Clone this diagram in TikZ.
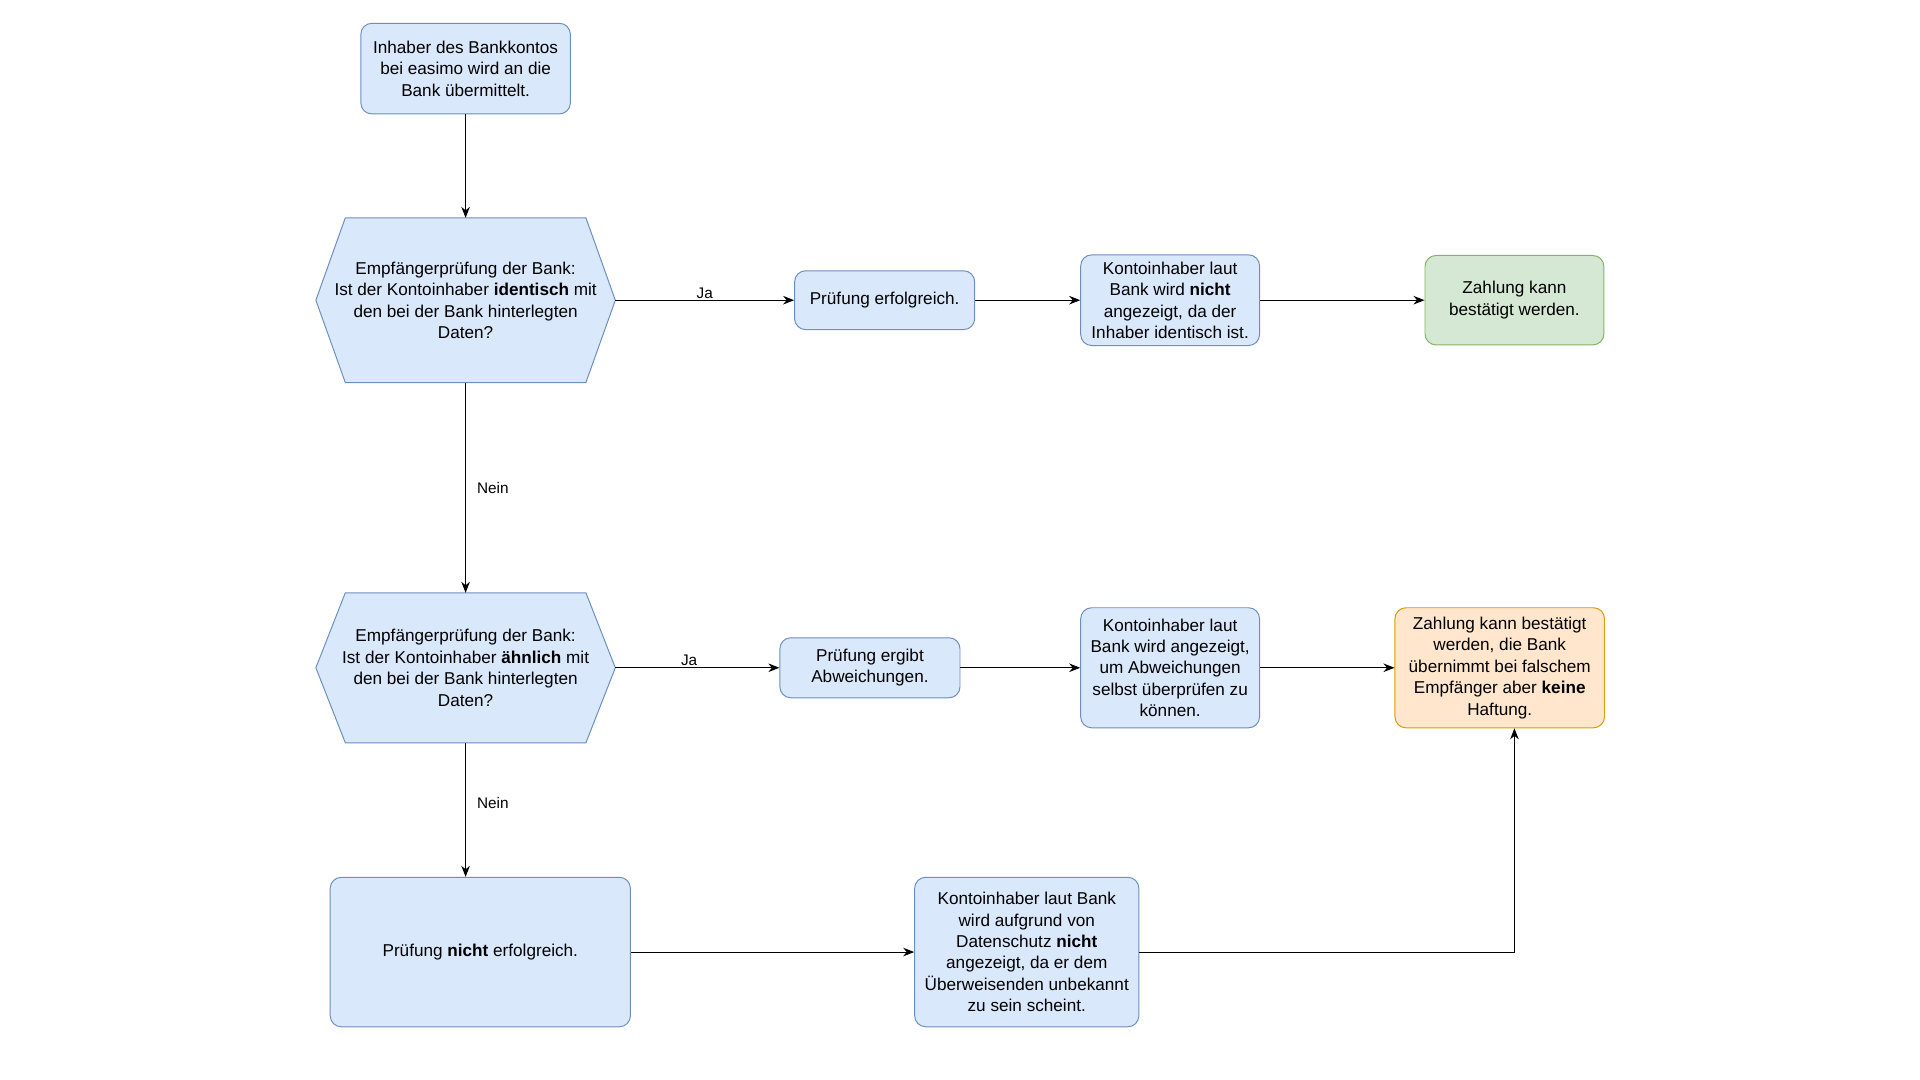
\documentclass[tikz,border=0pt]{standalone}
\usepackage{fontspec}
\setmainfont{Liberation Sans}
\usetikzlibrary{arrows.meta,calc}
\begin{document}
\begin{tikzpicture}[x=1pt,y=-1pt,
 base/.style={rounded corners=9pt,line width=0.8pt,align=center,font=\fontsize{14}{17.5}\selectfont,inner sep=2pt},
 bl/.style={base,draw=blue!45!gray,fill=blue!12!white,draw={rgb,255:red,108;green,142;blue,191},fill={rgb,255:red,218;green,232;blue,252}},
 gr/.style={base,draw={rgb,255:red,130;green,179;blue,102},fill={rgb,255:red,213;green,232;blue,212}},
 orr/.style={base,draw={rgb,255:red,215;green,155;blue,0},fill={rgb,255:red,255;green,230;blue,204}},
 hexshape/.style={draw={rgb,255:red,108;green,142;blue,191},fill={rgb,255:red,218;green,232;blue,252},line width=0.8pt},
 txt/.style={align=center,font=\fontsize{14}{17.5}\selectfont,inner sep=0pt},
 lbl/.style={font=\fontsize{12.5}{15}\selectfont,inner sep=1pt},
 arr/.style={-{Stealth[length=9pt,width=7pt]},line width=0.8pt}]
\useasboundingbox (0,0) rectangle (1567,881);
\node[bl,minimum width=171pt,minimum height=74pt] (top) at (380,56) {Inhaber des Bankkontos\\bei easimo wird an die\\Bank übermittelt.};
% hexagons
\node[minimum width=244pt,minimum height=134pt,inner sep=0pt] (h1) at (380,245) {};
\draw[hexshape] (h1.west) -- ($(h1.north west)+(24,0)$) -- ($(h1.north east)+(-24,0)$) -- (h1.east) -- ($(h1.south east)+(-24,0)$) -- ($(h1.south west)+(24,0)$) -- cycle;
\node[txt] at (h1) {Empfängerprüfung der Bank:\\Ist der Kontoinhaber \textbf{identisch} mit\\den bei der Bank hinterlegten\\Daten?};
\node[minimum width=244pt,minimum height=122pt,inner sep=0pt] (h2) at (380,545) {};
\draw[hexshape] (h2.west) -- ($(h2.north west)+(24,0)$) -- ($(h2.north east)+(-24,0)$) -- (h2.east) -- ($(h2.south east)+(-24,0)$) -- ($(h2.south west)+(24,0)$) -- cycle;
\node[txt] at (h2) {Empfängerprüfung der Bank:\\Ist der Kontoinhaber \textbf{ähnlich} mit\\den bei der Bank hinterlegten\\Daten?};
\node[bl,minimum width=147pt,minimum height=48pt] (p1) at (722,245) {Prüfung erfolgreich.};
\node[bl,minimum width=146pt,minimum height=74pt] (k1) at (955,245) {Kontoinhaber laut\\Bank wird \textbf{nicht}\\angezeigt, da der\\Inhaber identisch ist.};
\node[gr,minimum width=146pt,minimum height=73pt] (g) at (1236,245) {Zahlung kann\\bestätigt werden.};
\node[bl,minimum width=147pt,minimum height=49pt] (p2) at (710,545) {Prüfung ergibt\\Abweichungen.};
\node[bl,minimum width=146pt,minimum height=98pt] (k2) at (955,545) {Kontoinhaber laut\\Bank wird angezeigt,\\um Abweichungen\\selbst überprüfen zu\\können.};
\node[orr,minimum width=171pt,minimum height=98pt] (o) at (1224,545) {Zahlung kann bestätigt\\werden, die Bank\\übernimmt bei falschem\\Empfänger aber \textbf{keine}\\Haftung.};
\node[bl,minimum width=245pt,minimum height=122pt] (n) at (392,777) {Prüfung \textbf{nicht} erfolgreich.};
\node[bl,minimum width=183pt,minimum height=122pt] (k3) at (838,777) {Kontoinhaber laut Bank\\wird aufgrund von\\Datenschutz \textbf{nicht}\\angezeigt, da er dem\\Überweisenden unbekannt\\zu sein scheint.};
\draw[arr] (top) -- (h1.north);
\draw[arr] (h1.east) -- node[lbl,above,pos=0.5] {Ja} (p1);
\draw[arr] (p1) -- (k1);
\draw[arr] (k1) -- (g);
\draw[arr] (h1.south) -- node[lbl,right=8pt] {Nein} (h2.north);
\draw[arr] (h2.east) -- node[lbl,above,pos=0.45] {Ja} (p2);
\draw[arr] (p2) -- (k2);
\draw[arr] (k2) -- (o);
\draw[arr] (h2.south) -- node[lbl,right=8pt,pos=0.45] {Nein} (n.north -| h2.south);
\draw[arr] (n) -- (k3);
\coordinate (c) at (1236,777);
\draw[arr] (k3.east) -- (c) -- (c |- o.south);
\end{tikzpicture}
\end{document}
